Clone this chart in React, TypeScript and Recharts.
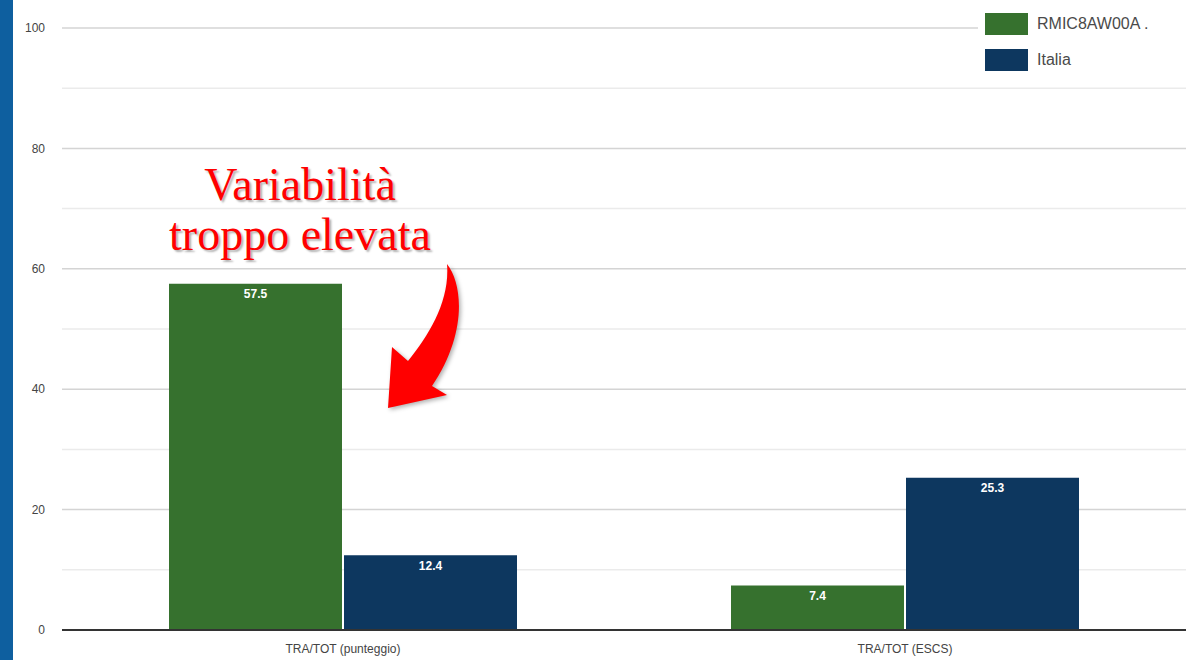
import {
  BarChart,
  Bar,
  XAxis,
  YAxis,
  CartesianGrid,
  Legend,
  LabelList,
} from "recharts";

const categories = ["TRA/TOT (punteggio)", "TRA/TOT (ESCS)"];
const schoolValues = [57.5, 7.4];
const italiaValues = [12.4, 25.3];
const yTicks = [0, 10, 20, 30, 40, 50, 60, 70, 80, 90, 100];

const seriesNames = ["RMIC8AW00A .", "Italia"];
const GREEN = "#36712e";
const BLUE = "#0d375f";

const data = categories.map((name, i) => ({
  name,
  school: schoolValues[i],
  italia: italiaValues[i],
}));

function LegendBox({ payload }: { payload?: Array<{ value: string; color: string }> }) {
  if (!payload) return null;
  // keep series order, the legend sorts by name otherwise
  const items = [...payload].sort(
    (a, b) => seriesNames.indexOf(a.value) - seriesNames.indexOf(b.value)
  );
  return (
    <div
      style={{
        background: "#fff",
        padding: "12px 0 0 7px",
        height: 84,
        boxSizing: "border-box",
        fontFamily: "'Liberation Sans', Arial, sans-serif",
        fontSize: 16,
        color: "#4a4a4a",
      }}
    >
      {items.map((item) => (
        <div
          key={item.value}
          style={{ display: "flex", alignItems: "center", height: 23, marginBottom: 13 }}
        >
          <div
            style={{ width: 43, height: 22, background: item.color, marginRight: 9 }}
          />
          <span>{item.value}</span>
        </div>
      ))}
    </div>
  );
}

export default function App() {
  return (
    <div
      style={{
        position: "absolute",
        top: 0,
        left: 0,
        width: 1189,
        height: 660,
        background: "#fff",
        overflow: "hidden",
      }}
    >
      <div
        style={{
          position: "absolute",
          left: 0,
          top: 0,
          width: 13,
          height: 660,
          background: "#0e5f9f",
        }}
      />
      <BarChart
        width={1189}
        height={660}
        data={data}
        margin={{ top: 28, right: 3, bottom: 0, left: 0 }}
        barGap={2}
        barSize={173}
      >
        <CartesianGrid
          vertical={false}
          horizontal={(p: any) => (
            <line
              key={p.key}
              x1={p.x1}
              x2={p.x2}
              y1={p.y1}
              y2={p.y2}
              stroke={p.index % 2 === 0 ? "#d4d4d4" : "#ebebeb"}
              strokeWidth={1.5}
            />
          )}
        />
        <XAxis
          dataKey="name"
          height={30}
          axisLine={{ stroke: "#333", strokeWidth: 2 }}
          tickLine={false}
          tickSize={0}
          tickMargin={14}
          tick={{ fill: "#444", fontSize: 12, fontFamily: "'Liberation Sans', Arial, sans-serif" }}
        />
        <YAxis
          width={62}
          domain={[0, 100]}
          ticks={yTicks}
          interval={0}
          axisLine={false}
          tickLine={false}
          tickSize={0}
          tickMargin={17}
          tickFormatter={(v: number) => (v % 20 === 0 ? String(v) : "")}
          tick={{ fill: "#444", fontSize: 12, fontFamily: "'Liberation Sans', Arial, sans-serif" }}
        />
        <Legend
          layout="horizontal"
          verticalAlign="middle"
          align="center"
          content={<LegendBox />}
          wrapperStyle={{ top: 0, left: 978, width: 208, height: 84 }}
        />
        <Bar dataKey="school" name={seriesNames[0]} fill={GREEN} isAnimationActive={false}>
          <LabelList
            dataKey="school"
            position="insideTop"
            offset={6}
            fill="#fff"
            fontSize={12}
            fontWeight="bold"
            fontFamily="'Liberation Sans', Arial, sans-serif"
          />
        </Bar>
        <Bar dataKey="italia" name={seriesNames[1]} fill={BLUE} isAnimationActive={false}>
          <LabelList
            dataKey="italia"
            position="insideTop"
            offset={6}
            fill="#fff"
            fontSize={12}
            fontWeight="bold"
            fontFamily="'Liberation Sans', Arial, sans-serif"
          />
        </Bar>
      </BarChart>

      {/* annotation */}
      <div
        style={{
          position: "absolute",
          left: 130,
          top: 160,
          width: 340,
          textAlign: "center",
          fontFamily: "'Liberation Serif', 'Times New Roman', serif",
          fontSize: 46,
          lineHeight: "50px",
          color: "#ff0000",
          textShadow: "2px 2px 2px rgba(0,0,0,0.3)",
          pointerEvents: "none",
        }}
      >
        Variabilità
        <br />
        troppo elevata
      </div>
      <svg
        width={1189}
        height={660}
        style={{ position: "absolute", left: 0, top: 0, pointerEvents: "none" }}
      >
        <path
          d="M447,264 C464,286 466,336 432,386 L447,395 L388,408 L392,347 L408,361 C430,334 450,300 447,264 Z"
          fill="#ff0000"
          style={{ filter: "drop-shadow(2px 2px 2px rgba(0,0,0,0.3))" }}
        />
      </svg>
    </div>
  );
}
